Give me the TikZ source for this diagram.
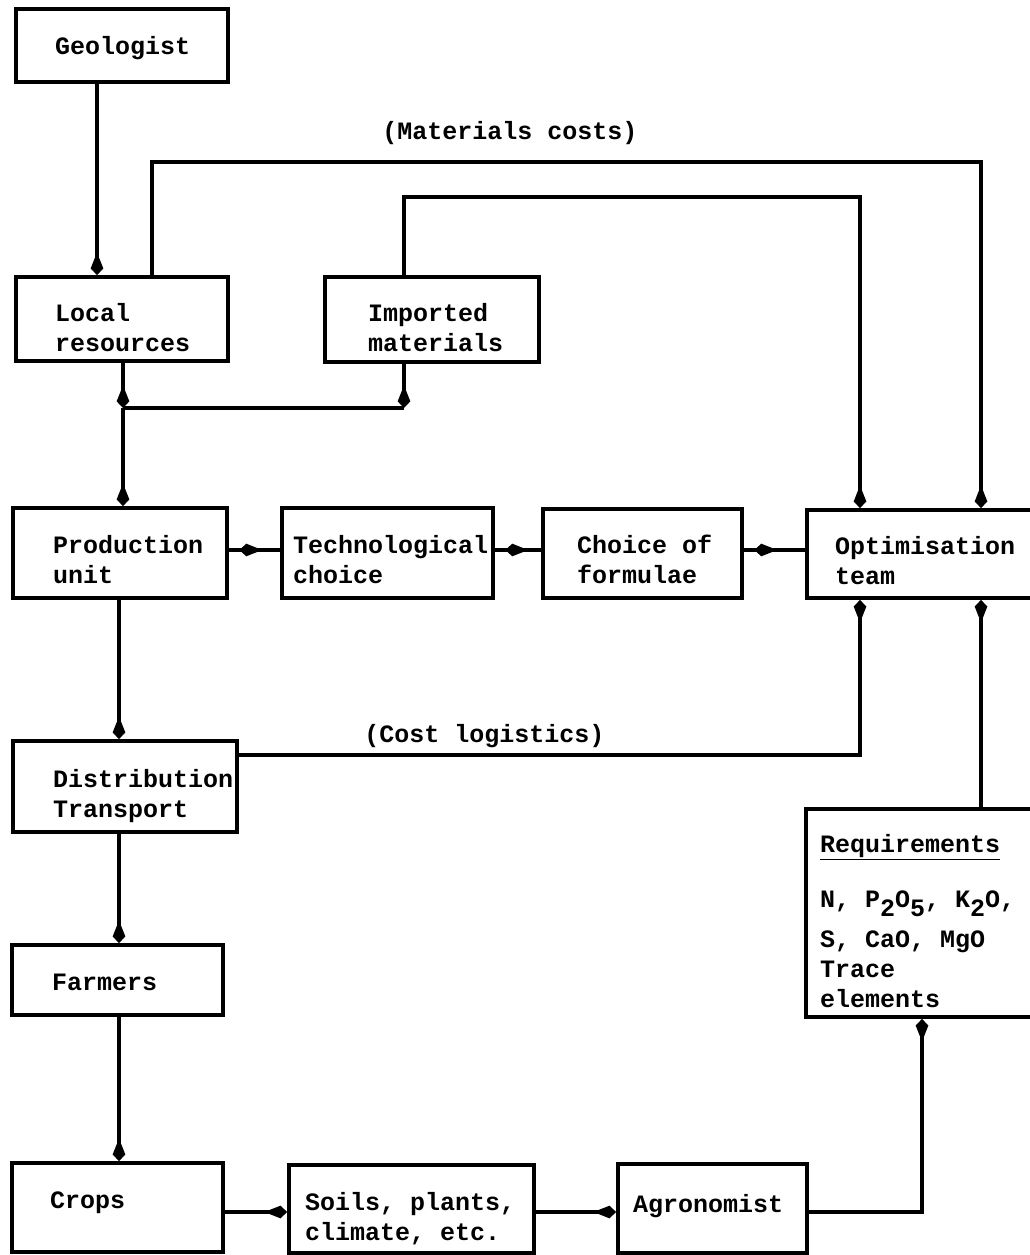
\documentclass[tikz,border=0pt]{standalone}
\usepackage{fontspec}
\setmainfont{Liberation Mono}
\usetikzlibrary{arrows.meta,decorations.markings}

% one unit = one pixel of the drawing grid
\newdimen\px \px=0.75pt
% box text: shift down (px), text width (px), lines
\newcommand{\boxtext}[3]{\raisebox{-#1\px}[\height][\depth]{\makebox[#2\px][l]{\begin{tabular}{@{}l@{}}#3\end{tabular}}}}
\newcommand{\sub}[1]{\raisebox{-7pt}{#1}}

\tikzset{
  txt/.style={font=\bfseries\fontsize{18.75}{22.5}\selectfont},
  box/.style={txt, draw, rectangle, line width=2.8pt, inner ysep=0pt},
  lbl/.style={txt, inner sep=0pt},
  tipkite/.tip={Kite[length=17pt,width=9.5pt,inset=12pt]},
  link/.style={line width=2.4pt},
  flow/.style={link, -{tipkite}},
  flowset/.style={link, postaction={decorate},
    decoration={markings, mark=at position -8pt with {\arrow{tipkite}}}},
}

\begin{document}
\begin{tikzpicture}[x=0.75pt, y=-0.75pt]
\useasboundingbox (0,0) rectangle (1030,1255);
\clip (0,0) rectangle (1030,1255);
\fill[white] (0,0) rectangle (1030,1255);

% ---- boxes ----
\node[box, minimum width=212\px, minimum height=73\px, inner xsep=39\px] (geo) at (122,45.5) {\boxtext{3.5}{134}{Geologist}};
\node[box, minimum width=212\px, minimum height=84\px, inner xsep=39\px] (local) at (122,319) {\boxtext{11}{134}{Local\\resources}};
\node[box, minimum width=214\px, minimum height=85\px, inner xsep=43\px] (imported) at (432,319.5) {\boxtext{10.5}{128}{Imported\\materials}};
\node[box, minimum width=214\px, minimum height=90\px, inner xsep=40\px] (prod) at (120,553) {\boxtext{9}{134}{Production\\unit}};
\node[box, minimum width=211\px, minimum height=90\px, inner xsep=11\px] (tech) at (387.5,553) {\boxtext{9}{189}{Technological\\choice}};
\node[box, minimum width=199\px, minimum height=89\px, inner xsep=34\px] (choice) at (642.5,553.5) {\boxtext{8.5}{131}{Choice of\\formulae}};
\node[box, minimum width=238\px, minimum height=88\px, inner xsep=28\px] (optim) at (926,554) {\boxtext{9}{182}{Optimisation\\team}};
\node[box, minimum width=224\px, minimum height=91\px, inner xsep=40\px] (dist) at (125,786.5) {\boxtext{9.5}{144}{Distribution\\Transport}};
\node[box, minimum width=211\px, minimum height=70\px, inner xsep=40\px] (farmers) at (117.5,980) {\boxtext{4}{131}{Farmers}};
\node[box, minimum width=239\px, minimum height=208\px, inner xsep=14\px] (req) at (925.5,913) {\boxtext{10.5}{211}{\underline{Requirements}\\[18.75pt]N, P\sub{2}O\sub{5}, K\sub{2}O,\\[7.5pt]S, CaO, MgO\\Trace\\elements}};
\node[box, minimum width=211\px, minimum height=89\px, inner xsep=38\px] (crops) at (117.5,1207.5) {\boxtext{-5.5}{135}{Crops}};
\node[box, minimum width=245\px, minimum height=88\px, inner xsep=16\px] (soils) at (411.5,1209) {\boxtext{10}{213}{Soils, plants,\\climate, etc.}};
\node[box, minimum width=189\px, minimum height=89\px, inner xsep=15\px] (agro) at (712.5,1208.5) {\boxtext{-2.5}{159}{Agronomist}};

% ---- connector lanes ----
\coordinate (xg) at (97,0);
\coordinate (xl) at (123,0);
\coordinate (xm) at (152,0);
\coordinate (xi) at (404,0);
\coordinate (xa) at (860,0);
\coordinate (xb) at (981,0);
\coordinate (xd) at (119,0);
\coordinate (xr) at (922,0);
\coordinate (ymc) at (0,162);
\coordinate (yim) at (0,197);
\coordinate (yj) at (0,408);
\coordinate (yc) at (0,550);
\coordinate (ycl) at (0,755);
\coordinate (ybot) at (0,1212);

% ---- connectors ----
\draw[flow] (geo.south -| xg) -- (local.north -| xg);
\draw[flow] (local.south -| xl) -- (xl |- yj);
\draw[flow] (imported.south -| xi) -- (xi |- yj);
\draw[link] (xi |- yj) -- (xl |- yj);
\draw[flow] (xl |- yj) -- (prod.north -| xl);

\draw[flow] (local.north -| xm) -- (xm |- ymc) -- (xb |- ymc) -- (optim.north -| xb);
\draw[flow] (imported.north -| xi) -- (xi |- yim) -- (xa |- yim) -- (optim.north -| xa);

\draw[flowset] (optim.west |- yc) -- (choice.east |- yc);
\draw[flowset] (choice.west |- yc) -- (tech.east |- yc);
\draw[flowset] (tech.west |- yc) -- (prod.east |- yc);

\draw[flow] (prod.south -| xd) -- (dist.north -| xd);
\draw[flow] (dist.east |- ycl) -- (xa |- ycl) -- (optim.south -| xa);
\draw[flow] (dist.south -| xd) -- (farmers.north -| xd);
\draw[flow] (farmers.south -| xd) -- (crops.north -| xd);

\draw[flow] (crops.east |- ybot) -- (soils.west |- ybot);
\draw[flow] (soils.east |- ybot) -- (agro.west |- ybot);
\draw[flow] (agro.east |- ybot) -- (xr |- ybot) -- (req.south -| xr);
\draw[flow] (req.north -| xb) -- (optim.south -| xb);

% ---- line labels ----
\node[lbl, anchor=base] (mclabel) at (510,140) {(Materials costs)};
\node[lbl, anchor=base] (cllabel) at (484.5,742) {(Cost logistics)};
\end{tikzpicture}
\end{document}
